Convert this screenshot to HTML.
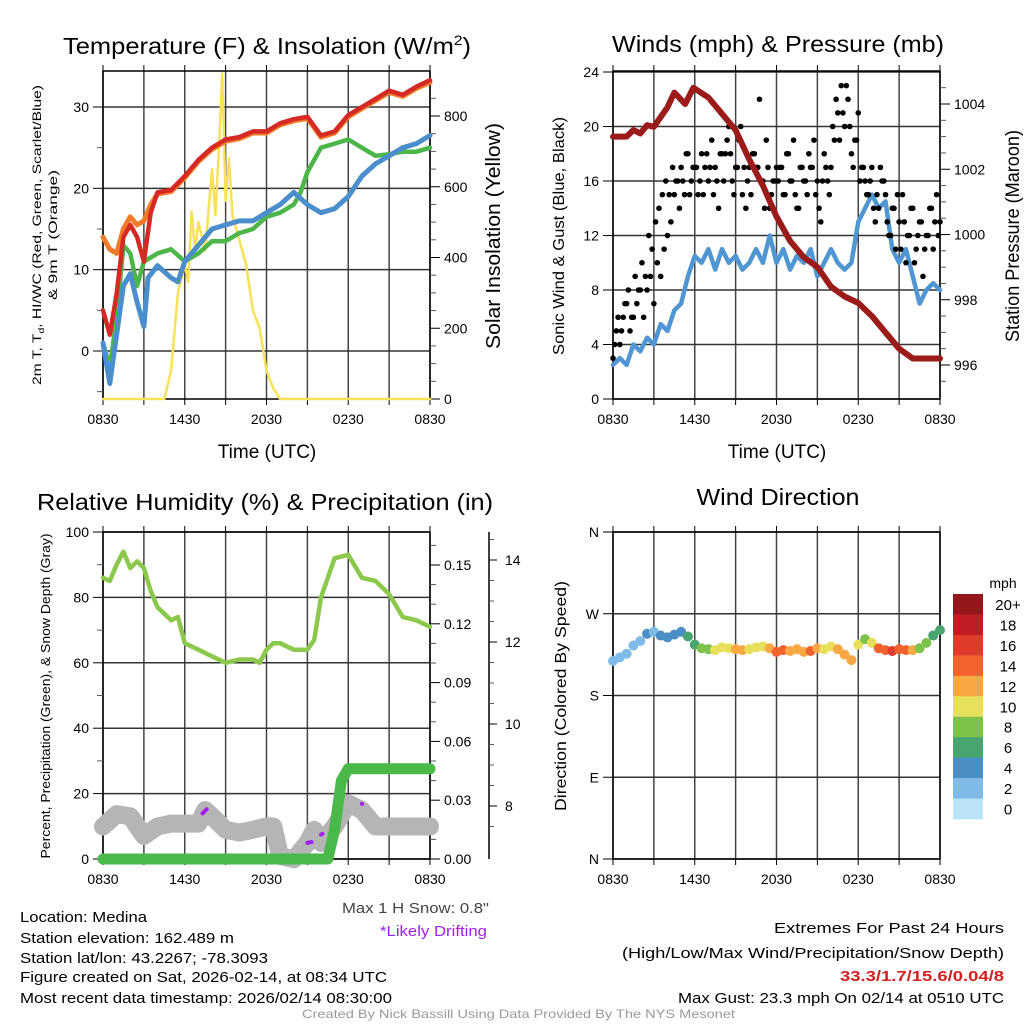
<!DOCTYPE html>
<html><head><meta charset="utf-8"><style>
html,body{margin:0;padding:0;background:#fff;}
svg{display:block;font-family:"Liberation Sans",sans-serif;}
</style></head><body>
<svg id="fig" width="1024" height="1024" viewBox="0 0 1024 1024">
<g id="layer"></g>
<g font-size="23" text-anchor="middle">
<text x="267" y="54" textLength="408" lengthAdjust="spacingAndGlyphs">Temperature (F) &amp; Insolation (W/m<tspan font-size="14" dy="-9">2</tspan><tspan dy="9">)</tspan></text>
<text x="778" y="52" textLength="332" lengthAdjust="spacingAndGlyphs">Winds (mph) &amp; Pressure (mb)</text>
<text x="265" y="510" textLength="456" lengthAdjust="spacingAndGlyphs">Relative Humidity (%) &amp; Precipitation (in)</text>
<text x="778" y="505" textLength="163" lengthAdjust="spacingAndGlyphs">Wind Direction</text>
</g>
<g text-anchor="middle">
<text x="267" y="458" font-size="19">Time (UTC)</text>
<text x="777" y="458" font-size="19">Time (UTC)</text>
<text transform="translate(41,235) rotate(-90)" font-size="12" textLength="300" lengthAdjust="spacingAndGlyphs">2m T, T<tspan font-size="8" dy="3">d</tspan><tspan dy="-3">, HI/WC (Red, Green, Scarlet/Blue)</tspan></text>
<text transform="translate(57,235) rotate(-90)" font-size="12" textLength="130" lengthAdjust="spacingAndGlyphs">&amp; 9m T (Orange)</text>
<text transform="translate(500,236) rotate(-90)" font-size="20" textLength="226" lengthAdjust="spacingAndGlyphs">Solar Insolation (Yellow)</text>
<text transform="translate(564,236) rotate(-90)" font-size="16" textLength="238" lengthAdjust="spacingAndGlyphs">Sonic Wind &amp; Gust (Blue, Black)</text>
<text transform="translate(1019,236) rotate(-90)" font-size="19" textLength="212" lengthAdjust="spacingAndGlyphs">Station Pressure (Maroon)</text>
<text transform="translate(50,696) rotate(-90)" font-size="13" textLength="325" lengthAdjust="spacingAndGlyphs">Percent, Precipitation (Green), &amp; Snow Depth (Gray)</text>
<text transform="translate(566,696) rotate(-90)" font-size="16" textLength="230" lengthAdjust="spacingAndGlyphs">Direction (Colored By Speed)</text>
</g>
<g font-size="15">
<text x="20" y="922" textLength="127" lengthAdjust="spacingAndGlyphs">Location: Medina</text>
<text x="20" y="943" textLength="214" lengthAdjust="spacingAndGlyphs">Station elevation: 162.489 m</text>
<text x="20" y="963" textLength="248" lengthAdjust="spacingAndGlyphs">Station lat/lon: 43.2267; -78.3093</text>
<text x="20" y="982" textLength="367" lengthAdjust="spacingAndGlyphs">Figure created on Sat, 2026-02-14, at 08:34 UTC</text>
<text x="20" y="1003" textLength="372" lengthAdjust="spacingAndGlyphs">Most recent data timestamp: 2026/02/14 08:30:00</text>
<text x="342" y="913" textLength="147" lengthAdjust="spacingAndGlyphs" fill="#444">Max 1 H Snow: 0.8"</text>
<text x="380" y="936" textLength="107" lengthAdjust="spacingAndGlyphs" fill="#a020f0">*Likely Drifting</text>
<text x="774" y="933" textLength="230" lengthAdjust="spacingAndGlyphs">Extremes For Past 24 Hours</text>
<text x="622" y="958" textLength="382" lengthAdjust="spacingAndGlyphs">(High/Low/Max Wind/Precipitation/Snow Depth)</text>
<text x="840" y="981" textLength="164" lengthAdjust="spacingAndGlyphs" fill="#d42020" font-weight="bold">33.3/1.7/15.6/0.04/8</text>
<text x="678" y="1003" textLength="326" lengthAdjust="spacingAndGlyphs">Max Gust: 23.3 mph On 02/14 at 0510 UTC</text>
<text x="302" y="1018" textLength="433" lengthAdjust="spacingAndGlyphs" font-size="12" fill="#999">Created By Nick Bassill Using Data Provided By The NYS Mesonet</text>
</g>
</svg>
<script>
// ---------- data ----------
const timeTicks = ["0830","1430","2030","0230","0830"];
const tempHours = [0,0.5,1,1.5,2,2.5,3,3.5,4,5,6,7,8,9,10,11,12,13,14,15,16,17,18,19,20,21,22,23,24];
const tempRed   = [5,2,7,14,15.5,14,11,17,19.5,19.8,21.5,23.5,25,26,26.3,27,27,28,28.5,28.8,26.5,27,29,30,31,32,31.5,32.5,33.3];
const temp9m    = [14,12.5,12,15,16.5,15.5,16,18,19.3,19.6,21.3,23.3,24.8,25.8,26.1,26.8,26.8,27.8,28.3,28.6,26.3,26.8,28.8,29.8,30.8,31.8,31.3,32.3,33];
const dewHours  = [0,0.5,1,1.5,2,2.5,3,3.5,4,5,6,7,8,9,10,11,12,13,14,14.5,15,16,17,18,19,20,21,22,23,24];
const dewGreen  = [1,-2,4,13,12,8,11,11.5,12,12.5,11,12,13.5,13.5,14.5,15,16.5,17,18,19.5,22,25,25.5,26,25,24,24.2,24.5,24.5,25];
const wcHours   = [0,0.5,1,1.5,2,2.5,3,3.3,4,5,5.5,6,7,8,9,10,11,12,13,14,15,16,17,18,19,20,21,22,23,24];
const wcBlue    = [1,-4,2,8,9.5,6,3,9,10.5,9,8.5,11,13,15,15.5,16,16,17,18,19.5,18,17,17.5,19,21.5,23,24,25,25.5,26.5];
const solarHours= [0,4.5,5,5.5,6,6.25,6.5,6.75,7,7.5,8,8.25,8.5,8.75,9,9.25,9.5,10,10.5,11,11.5,12,12.5,13,24];
const solarVals = [0,0,80,300,380,330,530,420,500,420,650,520,700,920,560,680,520,450,380,250,200,80,30,0,0];
const presHours = [0,1,1.5,2,2.5,3,3.5,4,4.5,5.3,5.9,7,8,9,10,11,12,13,14,15,16,17,18,19,20,21,22,24];
const presVals  = [1003,1003,1003.2,1003.1,1003.35,1003.3,1003.6,1003.9,1004.35,1004.0,1004.5,1004.2,1003.7,1003.2,1002.3,1001.5,1000.55,999.8,999.3,999.0,998.4,998.1,997.9,997.5,997.0,996.5,996.2,996.2];
const windVals  = [2.5,3,2.5,4,3.5,4.5,4,5.5,5,6.5,7,9,10.5,10,11,9.5,11,10,10.5,9.5,10,11,10,12,10,11,9.5,10.5,10,11,9,10,11,10,9.5,10,13,14,15,14,14.5,11,10,11,9,7,8,8.5,8];
const gustVals  = [3,5,4,6,7,5,6,7,8, 6,8,9,7,10,9,11,12, 13,15,16,17,15,18,16,17, 15,18,17,16,19,17,14,18, 18,20,16,17,19,15,14,17, 18,17,22,16,19,14,16,17, 17,15,18,16,19,14,17,16, 15,17,19,16,13,18,16,17, 19,21,23,20,22,18,19,21, 17,16,15,17,13,14,16,15, 12,14,11,13,15,10,12,14, 11,13,9,12,14,11,15,13];
const gustVals2 = [4,6,5,7,8,6,9,8, 10,9,12,11,13,14,15,16, 15,17,16,14,16,18,15,17, 17,16,15,18,17,15,16,18, 16,19,18,15,17,20,17,16, 15,18,17,16,14,17,15,16, 16,17,15,18,16,15,14,17, 16,18,17,15,14,16,17,15, 20,22,19,21,23,20,17,19, 16,17,15,16,14,15,17,16, 13,12,14,15,11,13,12,14, 10,12,13,11,12,14,13,12];
const rhHours   = [0,0.5,1,1.5,2,2.5,3,3.5,4,5,5.5,6,7,8,9,10,11,11.5,12,12.5,13,14,15,15.5,16,17,18,19,20,21,22,23,24];
const rhVals    = [86,85,90,94,89,91,89,82,77,73,74,66,64,62,60,61,61,60,64,66,66,64,64,67,80,92,93,86,85,81,74,73,71];
const precipHours=[0,16.5,17,17.5,18,24];
const precipVals= [0,0,0.015,0.04,0.046,0.046];
const snowHours = [0,1,2,3,4,5,6,7,7.5,8,9,10,11,12,12.5,13,14,15,15.5,16,17,18,19,20,24];
const snowVals  = [7.5,7.8,7.75,7.27,7.5,7.57,7.57,7.57,7.9,7.75,7.42,7.35,7.42,7.5,7.5,6.78,6.7,7.1,7.42,7.1,7.5,8.06,7.9,7.5,7.5];
const driftHours= [7.3,7.6,15,15.3,16,16.1,19];
const driftVals = [7.82,7.92,7.1,7.12,7.3,7.32,8.05];
const dirVals   = [218,222,226,235,240,248,250,246,244,247,250,245,236,232,231,230,233,232,231,230,231,233,234,232,228,230,229,231,228,229,232,231,234,231,225,219,236,242,238,232,230,229,231,230,230,232,238,246,252];
const spdVals   = [2,3,2.5,3,3.5,4,3,4,4.5,5,5,6,7,8,9,10,10,11,12,12,11,10,10,12,14,15,13,12,13,14,12,11,11,12,12,13,10,9,11,14,15,16,15,14,12,9,8,7,7];
const cbLabels  = ["20+","18","16","14","12","10","8","6","4","2","0"];
const cbColors  = ["#93171b","#bf1e24","#de3b2a","#f1622d","#f7a843","#e8e05b","#7dc34b","#48a56f","#4a8ec6","#7fbbe6","#b8e3f8"];

// ---------- helpers ----------
const NS="http://www.w3.org/2000/svg";
const layer=document.getElementById('layer');
function el(tag,attrs,parent){const e=document.createElementNS(NS,tag);for(const k in attrs)e.setAttribute(k,attrs[k]);(parent||layer).appendChild(e);return e;}
function txt(x,y,s,size,anchor,parent){const t=el('text',{x:x,y:y,'font-size':size,'text-anchor':anchor||'middle'},parent);t.textContent=s;return t;}
function xs(px,pw){return h=>px+h/24*pw;}
function lin(v0,y0,v1,y1){return v=>y0+(v-v0)*(y1-y0)/(v1-v0);}
function poly(hours,vals,X,Y,color,w,name,parent){
  const p=el('polyline',{points:hours.map((h,i)=>X(h).toFixed(1)+','+Y(vals[i]).toFixed(1)).join(' '),fill:'none',stroke:color,'stroke-width':w,'stroke-linejoin':'round','stroke-linecap':'round'},parent);
  
  
  return p;
}
function frame(px,py,pw,ph,hgrid,name){
  const g=el('g',{});
  
  
  for(let i=0;i<=8;i++){const x=px+i*pw/8;
    el('line',{x1:x,y1:py,x2:x,y2:py+ph,stroke:'#444','stroke-width':1.5},g);
    el('line',{x1:x,y1:py-6,x2:x,y2:py,stroke:'#000','stroke-width':1},g);
    el('line',{x1:x,y1:py+ph,x2:x,y2:py+ph+6,stroke:'#000','stroke-width':1},g);}
  hgrid.forEach(y=>el('line',{x1:px,y1:y,x2:px+pw,y2:y,stroke:'#333','stroke-width':1.5},g));
  el('rect',{x:px,y:py,width:pw,height:ph,fill:'none',stroke:'#000','stroke-width':1.5},g);
  timeTicks.forEach((t,i)=>txt(px+i*pw/4,py+ph+25,t,14,'middle',g));
  return g;
}
function yticks(x,vals,Y,labels,side,minor,g){
  const d=side==='left'?-1:1;
  vals.forEach((v,i)=>{const y=Y(v);el('line',{x1:x,y1:y,x2:x+d*10,y2:y,stroke:'#000','stroke-width':1},g);
    txt(x+d*14,y+5,labels[i],14,side==='left'?'end':'start',g);});
  (minor||[]).forEach(v=>{const y=Y(v);el('line',{x1:x,y1:y,x2:x+d*6,y2:y,stroke:'#555','stroke-width':1},g);});
}

// ---------- panel 1: temperature ----------
(function(){
  const px=103,py=71,pw=327,ph=328,X=xs(px,pw);
  const T=lin(0,351,30,107), S=lin(0,399,800,116);
  const g=frame(px,py,pw,ph,[T(0),T(10),T(20),T(30)],'temperature-panel');
  yticks(px,[0,10,20,30],T,["0","10","20","30"],'left',[-5,5,15,25],g);
  const sv=[0,200,400,600,800];
  yticks(px+pw,sv,S,sv.map(String),'right',[50,100,150,250,300,350,450,500,550,650,700,750,850],g);
  poly(solarHours,solarVals,X,S,'#f7e159',2.5,'solar-insolation-line',g);
  poly(dewHours,dewGreen,X,T,'#4cb748',4.5,'dewpoint-line',g);
  poly(wcHours,wcBlue,X,T,'#4a8fcc',5,'wind-chill-line',g);
  poly(tempHours,temp9m,X,T,'#f07c2a',5,'temperature-9m-line',g);
  poly(tempHours,tempRed,X,T,'#d52a24',4.5,'temperature-2m-line',g);
})();

// ---------- panel 2: winds ----------
(function(){
  const px=613,py=71,pw=327,ph=328,X=xs(px,pw);
  const W=lin(0,399,24,72), P=lin(996,365,1004,104);
  const wt=[0,4,8,12,16,20,24];
  const g=frame(px,py,pw,ph,wt.map(W),'winds-panel');
  yticks(px,wt,W,wt.map(String),'left',[],g);
  const pt=[996,998,1000,1002,1004];
  yticks(px+pw,pt,P,pt.map(String),'right',[995.5,996.5,997,997.5,998.5,999,999.5,1000.5,1001,1001.5,1002.5,1003,1003.5,1004.5],g);
  poly(windVals.map((_,i)=>i*0.5),windVals,X,W,'#4f96d2',4.5,'sonic-wind-line',g);
  gustVals.forEach((v,i)=>{const c=el('circle',{cx:X(i*0.25),cy:W(v),r:2.8,fill:'#000'},g);
    
    });
  gustVals2.forEach((v,i)=>{const c=el('circle',{cx:X(0.125+i*0.25),cy:W(v),r:2.8,fill:'#000'},g);
    
    });
  poly(presHours,presVals,X,P,'#9b1b1b',6,'pressure-line',g);
})();

// ---------- panel 3: humidity ----------
(function(){
  const px=103,py=532,pw=327,ph=327,X=xs(px,pw);
  const R=lin(0,859,100,532), Pr=lin(0,859,0.15,565), Sn=lin(8,806,14,560);
  const rt=[0,20,40,60,80,100];
  const g=frame(px,py,pw,ph,rt.map(R),'humidity-panel');
  yticks(px,rt,R,rt.map(String),'left',[10,30,50,70,90],g);
  const prt=[0,0.03,0.06,0.09,0.12,0.15];
  yticks(px+pw,prt,Pr,["0.00","0.03","0.06","0.09","0.12","0.15"],'right',[0.01,0.02,0.04,0.05,0.07,0.08,0.1,0.11,0.13,0.14,0.16],g);
  el('line',{x1:489,y1:532,x2:489,y2:859,stroke:'#000','stroke-width':1.5},g);
  const st=[8,10,12,14];
  st.forEach(v=>{el('line',{x1:489,y1:Sn(v),x2:497,y2:Sn(v),stroke:'#000'},g);txt(505,Sn(v)+5,String(v),14,'start',g);});
  [7.5,8.5,9,9.5,10.5,11,11.5,12.5,13,13.5,14.5].forEach(v=>el('line',{x1:489,y1:Sn(v),x2:494,y2:Sn(v),stroke:'#555'},g));
  poly(snowHours,snowVals,X,Sn,'#b5b5b5',18,'snow-depth-line',g);
  poly(driftHours.slice(0,2),driftVals.slice(0,2),X,Sn,'#a020f0',4,'drift-mark-1',g);
  poly(driftHours.slice(2,4),driftVals.slice(2,4),X,Sn,'#a020f0',4,'drift-mark-2',g);
  poly(driftHours.slice(4,6),driftVals.slice(4,6),X,Sn,'#a020f0',4,'drift-mark-3',g);
  poly(driftHours.slice(6,7).concat([19.02]),driftVals.slice(6,7).concat([8.05]),X,Sn,'#a020f0',4,'drift-mark-4',g);
  poly(precipHours,precipVals,X,Pr,'#4bb84a',11,'precipitation-line',g);
  poly(rhHours,rhVals,X,R,'#8cc84b',4.5,'humidity-line',g);
})();

// ---------- panel 4: wind direction ----------
(function(){
  const px=613,py=532,pw=327,ph=327,X=xs(px,pw);
  const D=lin(0,859,360,532);
  const dt=[0,90,180,270,360], dl=["N","E","S","W","N"];
  const g=frame(px,py,pw,ph,dt.map(D),'wind-direction-panel');
  yticks(px,dt,D,dl,'left',[],g);
  function col(s){let i=Math.min(10,Math.floor(s/2));return cbColors[10-i];}
  dirVals.forEach((d,i)=>{const c=el('circle',{cx:X(i*0.5),cy:D(d),r:5,fill:col(spdVals[i])},g);
    
    });
  const lg=el('g',{});
  
  
  txt(1003,588,'mph',14,'middle',lg);
  cbColors.forEach((c,i)=>{el('rect',{x:953,y:594+i*20.45,width:30,height:20.9,fill:c},lg);
    txt(1008,594+i*20.45+16,cbLabels[i],15,'middle',lg);});
})();
</script>
</body></html>
